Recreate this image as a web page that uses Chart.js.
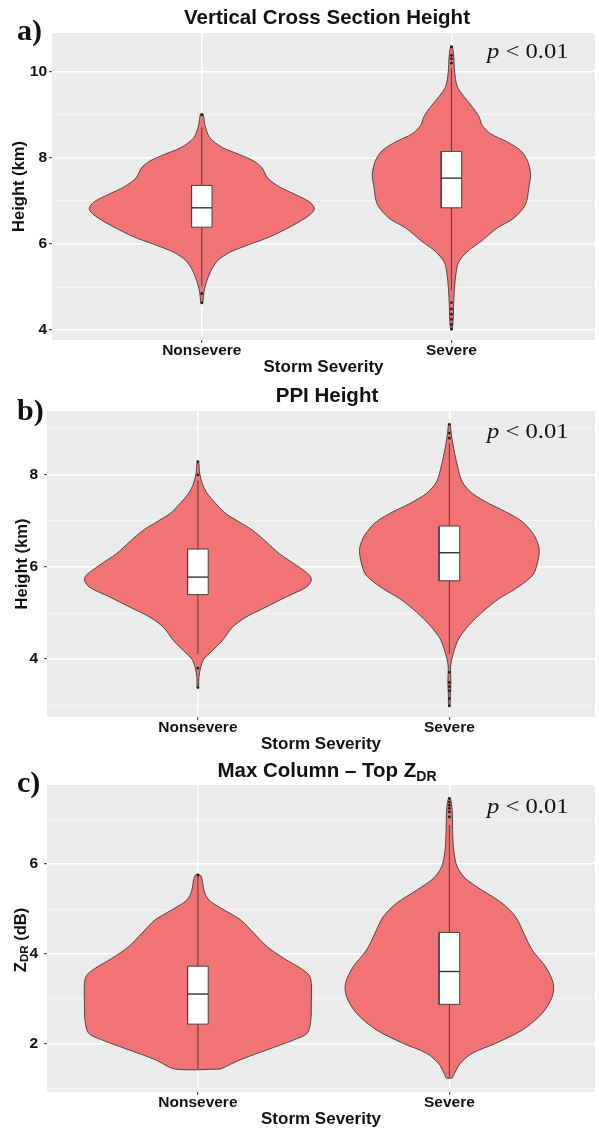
<!DOCTYPE html>
<html>
<head>
<meta charset="utf-8">
<script src="https://cdn.jsdelivr.net/npm/chart.js@4.4.1/dist/chart.umd.min.js"></script>
<style>
  body { margin: 0; background: #fff; }
  #wrap { position: relative; width: 599px; height: 1129px; overflow: hidden;
          font-family: "Liberation Sans", Arial, sans-serif; color: #111; }
  canvas { position: absolute; left: 0; }
  .ttl { position: absolute; left: 0; width: 654px; text-align: center; font-weight: bold;
         font-size: 20.5px; line-height: 1; white-space: nowrap; }
  .ttl .sb { font-size: 14px; position: relative; top: 4px; }
  .lab { position: absolute; left: 17px; font: bold 30px/1 "Liberation Serif", "Times New Roman", serif; }
  .pv  { position: absolute; left: 487px; font: 22px/1 "Liberation Serif", "Times New Roman", serif;
         transform: scaleX(1.12); transform-origin: left center; white-space: nowrap; }
  .pv i { font-style: italic; }
  .ytc { position: absolute; left: 20px; top: 940px; transform: translate(-50%, -50%) rotate(-90deg);
         font: bold 16.5px/1 "Liberation Sans", Arial, sans-serif; white-space: nowrap; }
  .ytc .sb { font-size: 11.5px; position: relative; top: 2px; }
</style>
</head>
<body>
<div id="wrap">
  <canvas id="pa" width="599" height="380" style="top:0"></canvas>
  <canvas id="pb" width="599" height="375" style="top:380px"></canvas>
  <canvas id="pc" width="599" height="374" style="top:755px"></canvas>

  <div class="ttl" style="top:6.6px">Vertical Cross Section Height</div>
  <div class="ttl" style="top:384.6px">PPI Height</div>
  <div class="ttl" style="top:759.6px">Max Column – Top Z<span class="sb">DR</span></div>

  <div class="lab" style="top:15px">a)</div>
  <div class="lab" style="top:395px">b)</div>
  <div class="lab" style="top:767px">c)</div>

  <div class="pv" style="top:40px"><i>p</i> &lt; 0.01</div>
  <div class="pv" style="top:420px"><i>p</i> &lt; 0.01</div>
  <div class="pv" style="top:795px"><i>p</i> &lt; 0.01</div>

  <div class="ytc">Z<span class="sb">DR</span> (dB)</div>
</div>

<script>
// ── Categories / axes ───────────────────────────
const CATS    = ['Nonsevere', 'Severe'];
const X_TICKS = [1, 2];

// ── a) Vertical cross section height (km) ───────
const A_Y_MAJOR = [4, 6, 8, 10];
const A_Y_MINOR = [5, 7, 9];
const A_Y_RANGE = [3.77, 10.9];
// violin outlines: height levels and half-widths (x units)
const A_NS_Y = [4.63, 4.67, 4.90, 5.14, 5.37, 5.61, 5.80, 5.96, 6.16, 6.43, 6.67, 6.82, 6.98, 7.14, 7.33, 7.53, 7.77, 7.92, 8.08, 8.24, 8.47, 8.75, 9.02];
const A_NS_W = [0.004, 0.005, 0.009, 0.020, 0.036, 0.063, 0.110, 0.177, 0.270, 0.364, 0.431, 0.451, 0.431, 0.378, 0.310, 0.264, 0.241, 0.210, 0.150, 0.083, 0.032, 0.013, 0.005];
const A_SV_Y = [4.02, 4.25, 4.64, 5.04, 5.35, 5.58, 5.82, 6.05, 6.37, 6.60, 6.92, 7.31, 7.62, 7.94, 8.17, 8.37, 8.56, 8.76, 8.96, 9.19, 9.43, 9.66, 9.98, 10.37, 10.60];
const A_SV_W = [0.003, 0.007, 0.009, 0.013, 0.019, 0.029, 0.063, 0.116, 0.183, 0.250, 0.297, 0.310, 0.317, 0.304, 0.277, 0.224, 0.157, 0.123, 0.110, 0.083, 0.049, 0.023, 0.013, 0.009, 0.003];
// box: [whisker low, Q1, median, Q3, whisker high]
const A_NS_BOX = [5.02, 6.39, 6.84, 7.36, 8.71];
const A_SV_BOX = [4.92, 6.84, 7.53, 8.15, 10.09];
const A_NS_OUT = [4.63, 4.85, 9.00];
const A_SV_OUT = [4.02, 4.13, 4.25, 4.37, 4.49, 4.64, 10.20, 10.30, 10.38, 10.58];

// ── b) PPI height (km) ──────────────────────────
const B_Y_MAJOR = [4, 6, 8];
const B_Y_MINOR = [3, 5, 7, 9];
const B_Y_RANGE = [2.74, 9.39];
const B_NS_Y = [3.38, 3.60, 3.82, 4.00, 4.18, 4.40, 4.69, 4.91, 5.13, 5.35, 5.56, 5.71, 5.82, 6.04, 6.29, 6.55, 6.80, 6.98, 7.16, 7.38, 7.60, 7.82, 8.04, 8.29];
const B_NS_W = [0.003, 0.004, 0.011, 0.024, 0.057, 0.097, 0.137, 0.191, 0.271, 0.351, 0.431, 0.451, 0.444, 0.391, 0.324, 0.271, 0.217, 0.164, 0.111, 0.071, 0.037, 0.017, 0.007, 0.003];
const B_SV_Y = [2.98, 3.20, 3.49, 3.85, 4.15, 4.44, 4.73, 5.02, 5.31, 5.53, 5.82, 6.11, 6.40, 6.69, 6.98, 7.20, 7.38, 7.60, 7.85, 8.22, 8.58, 8.87, 9.10];
const B_SV_W = [0.003, 0.004, 0.006, 0.005, 0.017, 0.037, 0.077, 0.131, 0.197, 0.264, 0.331, 0.351, 0.357, 0.337, 0.291, 0.224, 0.157, 0.091, 0.051, 0.031, 0.017, 0.008, 0.003];
const B_NS_BOX = [4.11, 5.40, 5.78, 6.39, 7.88];
const B_SV_BOX = [4.11, 5.70, 6.31, 6.89, 8.69];
const B_NS_OUT = [3.38, 3.80, 8.00, 8.29];
const B_SV_OUT = [2.98, 3.14, 3.31, 3.40, 3.49, 3.71, 8.80, 8.91, 9.10];

// ── c) Max column – top ZDR (dB) ────────────────
const C_Y_MAJOR = [2, 4, 6];
const C_Y_MINOR = [1, 3, 5, 7];
const C_Y_RANGE = [0.93, 7.76];
const C_NS_Y = [1.44, 1.65, 1.87, 2.09, 2.24, 2.53, 2.90, 3.35, 3.53, 3.68, 3.90, 4.16, 4.46, 4.76, 4.98, 5.20, 5.42, 5.65, 5.76];
const C_NS_W = [0.090, 0.170, 0.276, 0.382, 0.435, 0.449, 0.451, 0.451, 0.442, 0.409, 0.343, 0.276, 0.223, 0.170, 0.104, 0.044, 0.024, 0.017, 0.009];
const C_SV_Y = [1.24, 1.35, 1.57, 1.79, 2.01, 2.31, 2.68, 3.05, 3.35, 3.72, 4.09, 4.46, 4.83, 5.13, 5.42, 5.68, 5.94, 6.31, 6.76, 7.20, 7.46];
const C_SV_W = [0.012, 0.021, 0.044, 0.090, 0.183, 0.290, 0.369, 0.409, 0.413, 0.382, 0.329, 0.296, 0.263, 0.210, 0.130, 0.064, 0.031, 0.017, 0.013, 0.011, 0.004];
const C_NS_BOX = [1.44, 2.44, 3.11, 3.73, 5.75];
const C_SV_BOX = [1.24, 2.88, 3.61, 4.48, 6.87];
const C_NS_OUT = [5.76];
const C_SV_OUT = [7.05, 7.16, 7.24, 7.31, 7.38, 7.46];

// ── Style ───────────────────────────────────────
const VIOLIN_FILL = '#F27373';
const LINE_DARK   = '#3a3a3a';
const BOX_HALF    = 0.041;
const FONT_FAMILY = '"Liberation Sans", Arial, sans-serif';

Chart.defaults.font.family = FONT_FAMILY;

// grey ggplot panel behind the grid
const panelBg = {
    id: 'panelBg',
    beforeDraw(chart) {
        const { ctx, chartArea: a } = chart;
        ctx.save();
        ctx.fillStyle = '#EBEBEB';
        ctx.fillRect(a.left, a.top, a.right - a.left, a.bottom - a.top);
        ctx.restore();
    },
};

// closed outline: right side upward, left side downward
function outline(c, ys, ws) {
    const right = ys.map((y, i) => ({ x: c + ws[i], y }));
    const left  = ys.map((y, i) => ({ x: c - ws[i], y })).reverse();
    return [...right, ...left, right[0]];
}

function groupSets(c, ys, ws, box, outs) {
    const [lo, q1, med, q3, hi] = box;
    const b = BOX_HALF;
    return [
        { data: outline(c, ys, ws), fill: 'shape', backgroundColor: VIOLIN_FILL,
          borderColor: LINE_DARK, borderWidth: 0.9, tension: 0.3, pointRadius: 0, order: 4 },
        { data: [{ x: c, y: lo }, { x: c, y: hi }], fill: false,
          borderColor: '#444', borderWidth: 1, pointRadius: 0, order: 3 },
        { data: [{ x: c - b, y: q1 }, { x: c + b, y: q1 }, { x: c + b, y: q3 }, { x: c - b, y: q3 }, { x: c - b, y: q1 }],
          fill: 'shape', backgroundColor: '#FFFFFF', borderColor: '#444', borderWidth: 1,
          tension: 0, pointRadius: 0, order: 2 },
        { data: [{ x: c - b, y: med }, { x: c + b, y: med }], fill: false,
          borderColor: '#333', borderWidth: 1.4, pointRadius: 0, order: 1 },
        { data: outs.map(v => ({ x: c, y: v })), showLine: false, fill: false,
          pointRadius: 1.4, pointBackgroundColor: '#1e1e1e', pointBorderWidth: 0, order: 0 },
    ];
}

function panel(id, p) {
    const major = p.major, minor = p.minor;
    const isMajor = ctx => ctx.tick && major.includes(ctx.tick.value);
    const tickFont = { size: 15.5, weight: 'bold', lineHeight: 1 };

    new Chart(document.getElementById(id), {
        type: 'line',
        data: {
            datasets: [
                ...groupSets(X_TICKS[0], p.nsY, p.nsW, p.nsBox, p.nsOut),
                ...groupSets(X_TICKS[1], p.svY, p.svW, p.svBox, p.svOut),
            ],
        },
        options: {
            responsive: false,
            animation: false,
            devicePixelRatio: 1,
            layout: { padding: p.pad },
            plugins: { legend: { display: false }, tooltip: { enabled: false } },
            scales: {
                x: {
                    type: 'linear', min: 0.4, max: p.xMax,
                    afterBuildTicks: s => { s.ticks = X_TICKS.map(v => ({ value: v })); },
                    ticks: { callback: v => CATS[v - 1], color: '#111', font: tickFont,
                             padding: 0, maxRotation: 0, autoSkip: false },
                    grid: { color: '#FFFFFF', lineWidth: 1.4, tickLength: 3, tickColor: '#333', tickWidth: 1 },
                    border: { display: false },
                    title: { display: true, text: 'Storm Severity', color: '#111',
                             font: { size: 17, weight: 'bold', lineHeight: 1 }, padding: { top: 0, bottom: 0 } },
                },
                y: {
                    min: p.range[0], max: p.range[1],
                    afterBuildTicks: s => {
                        s.ticks = [...major, ...minor].sort((a, b) => a - b).map(v => ({ value: v }));
                    },
                    afterFit: s => { s.width = p.yw; },
                    ticks: { callback: v => major.includes(v) ? String(v) : '', color: '#111',
                             font: tickFont, padding: p.tickPad, autoSkip: false },
                    grid: {
                        color:     ctx => isMajor(ctx) ? '#FFFFFF' : 'rgba(255,255,255,0.75)',
                        lineWidth: ctx => isMajor(ctx) ? 1.4 : 0.7,
                        tickColor: ctx => isMajor(ctx) ? '#333' : 'rgba(0,0,0,0)',
                        tickLength: 3, tickWidth: 1,
                    },
                    border: { display: false },
                    title: { display: !!p.yTitle, text: p.yTitle || '', color: '#111',
                             font: { size: 16.5, weight: 'bold', lineHeight: 1 },
                             padding: { top: p.yTitlePad, bottom: 0 } },
                },
            },
        },
        plugins: [panelBg],
    });
}

panel('pa', {
    major: A_Y_MAJOR, minor: A_Y_MINOR, range: A_Y_RANGE,
    nsY: A_NS_Y, nsW: A_NS_W, nsBox: A_NS_BOX, nsOut: A_NS_OUT,
    svY: A_SV_Y, svW: A_SV_W, svBox: A_SV_BOX, svOut: A_SV_OUT,
    xMax: 2.575, yw: 52, tickPad: 2, yTitle: 'Height (km)', yTitlePad: 10.75,
    pad: { top: 33, left: 0, right: 0, bottom: 4.5 },
});

panel('pb', {
    major: B_Y_MAJOR, minor: B_Y_MINOR, range: B_Y_RANGE,
    nsY: B_NS_Y, nsW: B_NS_W, nsBox: B_NS_BOX, nsOut: B_NS_OUT,
    svY: B_SV_Y, svW: B_SV_W, svBox: B_SV_BOX, svOut: B_SV_OUT,
    xMax: 2.579, yw: 47, tickPad: 6, yTitle: 'Height (km)', yTitlePad: 13.75,
    pad: { top: 31, left: 0, right: 0, bottom: 2.5 },
});

panel('pc', {
    major: C_Y_MAJOR, minor: C_Y_MINOR, range: C_Y_RANGE,
    nsY: C_NS_Y, nsW: C_NS_W, nsBox: C_NS_BOX, nsOut: C_NS_OUT,
    svY: C_SV_Y, svW: C_SV_W, svBox: C_SV_BOX, svOut: C_SV_OUT,
    xMax: 2.579, yw: 47, tickPad: 6, yTitle: null, yTitlePad: 0,
    pad: { top: 30, left: 0, right: 0, bottom: 1.5 },
});
</script>
</body>
</html>
